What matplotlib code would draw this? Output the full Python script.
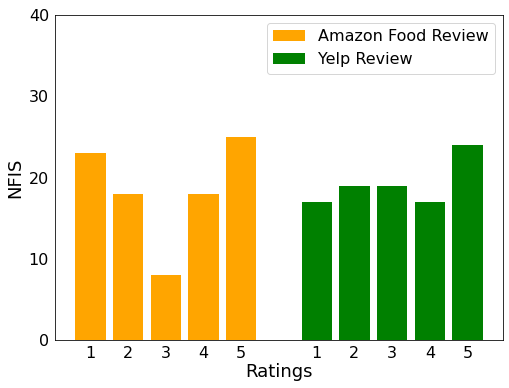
import matplotlib
matplotlib.use("Agg")
import matplotlib.pyplot as plt

plt.rcParams["font.family"] = ["DejaVu Sans"]

ratings = ["1", "2", "3", "4", "5"]
amazon = [23, 18, 8, 18, 25]
yelp = [17, 19, 19, 17, 24]
amazon_pos = [1, 2, 3, 4, 5]
yelp_pos = [7, 8, 9, 10, 11]

fig = plt.figure(figsize=(509/72, 388/72), dpi=72)
ax = fig.add_axes([55/509, 1-340/388, 448/509, 325/388])
ax.bar(amazon_pos, amazon, width=0.8, color="orange", label="Amazon Food Review")
ax.bar(yelp_pos, yelp, width=0.8, color="green", label="Yelp Review")
ax.set_ylim(0, 40)
ax.set_yticks([0, 10, 20, 30, 40])
ax.set_xticks(amazon_pos + yelp_pos)
ax.set_xticklabels(ratings + ratings)
ax.tick_params(length=0, labelsize=16, pad=6)
ax.set_xlabel("Ratings", fontsize=18, labelpad=2)
ax.set_ylabel("NFIS", fontsize=18)
ax.legend(loc="upper right", fontsize=16)
fig.savefig("out.png", dpi=72)
